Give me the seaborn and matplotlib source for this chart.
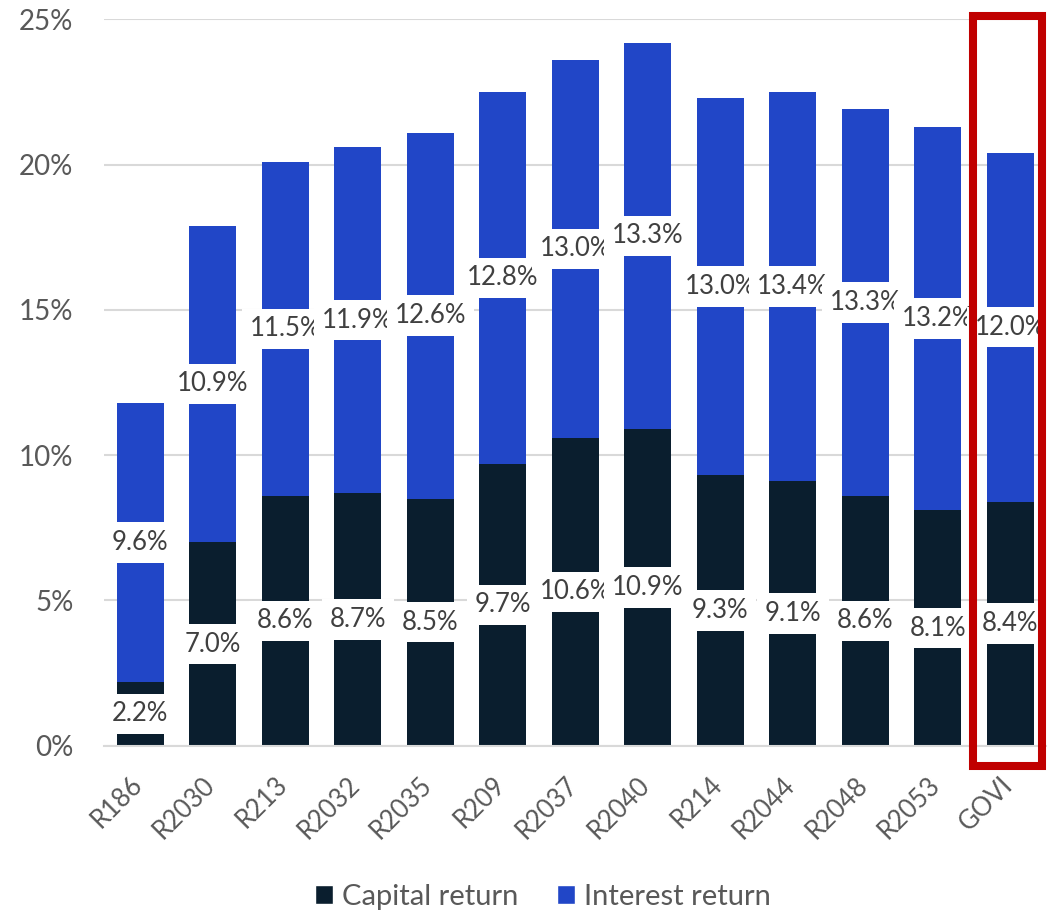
import matplotlib
matplotlib.use("Agg")
import matplotlib.pyplot as plt
import matplotlib.transforms as mtransforms
import seaborn as sns
import pandas as pd
from matplotlib.patches import Rectangle, Patch
from matplotlib.ticker import FuncFormatter

categories = ["R186", "R2030", "R213", "R2032", "R2035", "R209", "R2037",
              "R2040", "R214", "R2044", "R2048", "R2053", "GOVI"]
capital_return = [2.2, 7.0, 8.6, 8.7, 8.5, 9.7, 10.6, 10.9, 9.3, 9.1, 8.6, 8.1, 8.4]
interest_return = [9.6, 10.9, 11.5, 11.9, 12.6, 12.8, 13.0, 13.3, 13.0, 13.4, 13.3, 13.2, 12.0]
y_ticks = [0, 5, 10, 15, 20, 25]
highlight = "GOVI"

CAP_COLOR = "#0A1E2E"
INT_COLOR = "#2146C7"
GRID = "#D9D9D9"
TICK_C = "#595959"
LABEL_C = "#404040"

sns.set_theme(style="white")
plt.rcParams["font.family"] = ["Lato", "DejaVu Sans"]

df = pd.DataFrame({"bond": categories, "capital": capital_return, "interest": interest_return})
df["total"] = df["capital"] + df["interest"]

fig = plt.figure(figsize=(10.51, 9.13), dpi=100)
ax = fig.add_axes([0.099, 0.1832, 0.8967, 0.7957])

W = 0.644
sns.barplot(data=df, x="bond", y="total", order=categories, color=INT_COLOR,
            saturation=1, width=W, ax=ax, zorder=2, linewidth=0, edgecolor="none")
sns.barplot(data=df, x="bond", y="capital", order=categories, color=CAP_COLOR,
            saturation=1, width=W, ax=ax, zorder=2, linewidth=0, edgecolor="none")

ax.set_ylim(0, 25)
ax.set_xlim(-0.5, len(categories) - 0.5)
ax.set_yticks(y_ticks)
ax.yaxis.set_major_formatter(FuncFormatter(lambda v, p: f"{v:.0f}%"))
ax.set_axisbelow(True)
ax.yaxis.grid(True, color=GRID, linewidth=1.5)
ax.xaxis.grid(False)
for s in ["top", "right", "left"]:
    ax.spines[s].set_visible(False)
ax.spines["bottom"].set_color(GRID)
ax.spines["bottom"].set_linewidth(1.5)
ax.set_xlabel("")
ax.set_ylabel("")
ax.tick_params(axis="y", length=0, pad=22, labelsize=20, labelcolor=TICK_C)
ax.tick_params(axis="x", length=0, pad=19, labelsize=18.5, labelcolor=TICK_C)
offset = mtransforms.ScaledTranslation(7 / 100, 0, fig.dpi_scale_trans)
for lab in ax.get_xticklabels():
    lab.set_rotation(45)
    lab.set_ha("right")
    lab.set_transform(lab.get_transform() + offset)

box = dict(boxstyle="square,pad=0.3", facecolor="white", edgecolor="none")
for i, (c, r) in enumerate(zip(capital_return, interest_return)):
    ax.text(i, c / 2, f"{c:.1f}%", ha="center", va="center", fontsize=18.5,
            color=LABEL_C, bbox=box, zorder=5)
    ax.text(i, c + r / 2, f"{r:.1f}%", ha="center", va="center", fontsize=18.5,
            color=LABEL_C, bbox=box, zorder=5)

hi = categories.index(highlight)
ax.add_patch(Rectangle((hi - 0.52, -0.70), 0.96, 25.81, fill=False,
                       edgecolor="#C00000", linewidth=5.8, clip_on=False, zorder=6))

handles = [Patch(facecolor=CAP_COLOR, label="Capital return"),
           Patch(facecolor=INT_COLOR, label="Interest return")]
fig.legend(handles=handles, loc="center", bbox_to_anchor=(0.5166, 0.0175), ncol=2,
           frameon=False, fontsize=21, handlelength=0.62, handleheight=0.62,
           handletextpad=0.3, columnspacing=1.35, labelcolor=TICK_C)

fig.savefig("out.png", dpi=100)
